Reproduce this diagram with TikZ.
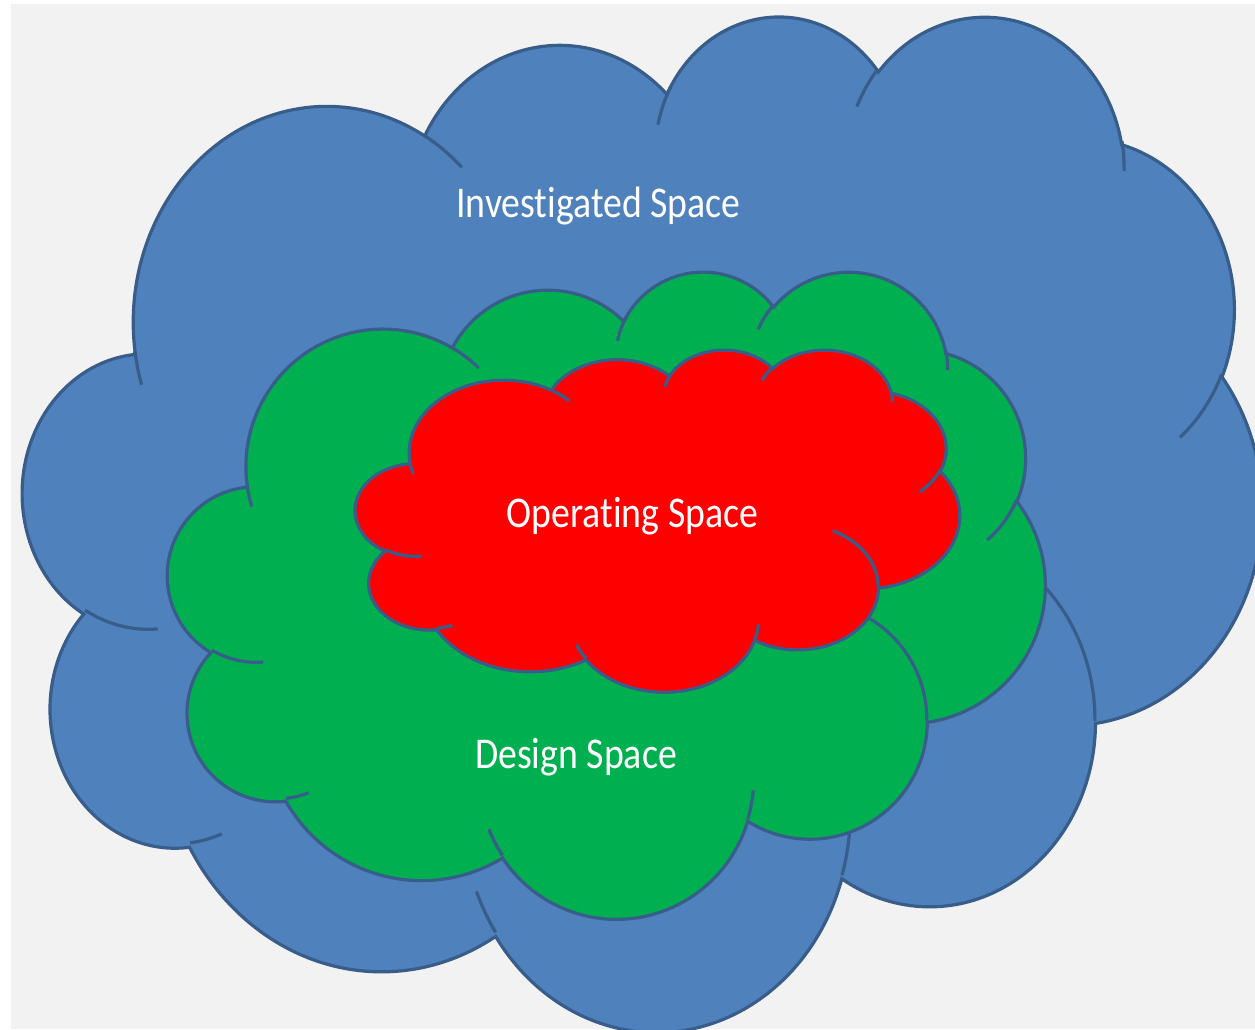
\documentclass[tikz,border=0pt]{standalone}
\usepackage{fontspec}
\usepackage{xcolor}
\newfontfamily\labelfont[FakeStretch=0.86, Ligatures=NoCommon]{Carlito}

% cloud outline in a 43.2 x 43.2 box, y pointing down
\newcommand{\cloudoutline}{(3.900,14.370)
  arc[start angle=-187.74, end angle=-59.64, x radius=6.753, y radius=9.190]
  arc[start angle=-152.02, end angle=-45.46, x radius=5.333, y radius=7.267]
  arc[start angle=-153.50, end angle=-37.33, x radius=4.365, y radius=5.945]
  arc[start angle=-139.71, end angle=-10.21, x radius=4.857, y radius=6.595]
  arc[start angle=-74.77, end angle=23.21, x radius=5.333, y radius=7.273]
  arc[start angle=-37.52, end angle=81.86, x radius=6.775, y radius=9.220]
  arc[start angle=0.46, end angle=121.98, x radius=5.785, y radius=7.867]
  arc[start angle=16.84, end angle=146.23, x radius=6.752, y radius=9.215]
  arc[start angle=58.98, end angle=150.19, x radius=7.720, y radius=10.543]
  arc[start angle=-276.69, end angle=-136.89, x radius=4.360, y radius=5.918]
  arc[start angle=-239.65, end angle=-95.89, x radius=4.345, y radius=5.945]
  -- cycle}
% the short arcs inside the cloud
\newcommand{\cloudinner}{
  (4.693,26.177) arc[start angle=85.55, end angle=120.35, x radius=4.345, y radius=5.945]
  (6.928,34.899) arc[start angle=68.24, end angle=83.31, x radius=4.360, y radius=5.918]
  (16.478,39.090) arc[start angle=146.23, end angle=158.47, x radius=6.752, y radius=9.215]
  (28.827,34.751) arc[start angle=4.74, end angle=16.84, x radius=6.752, y radius=9.215]
  (34.129,22.954) arc[start angle=-64.03, end angle=0.46, x radius=5.785, y radius=7.867]
  (41.798,15.354) arc[start angle=23.21, end angle=49.65, x radius=5.333, y radius=7.273]
  (38.324,5.426) arc[start angle=-10.21, end angle=0.82, x radius=4.857, y radius=6.595]
  (29.078,3.952) arc[start angle=-156.29, end angle=-139.71, x radius=4.857, y radius=6.595]
  (22.141,4.720) arc[start angle=-167.72, end angle=-151.12, x radius=4.365, y radius=5.945]
  (14.000,5.192) arc[start angle=-59.64, end angle=-45.74, x radius=6.753, y radius=9.190]
  (4.127,15.789) arc[start angle=163.19, end angle=172.26, x radius=6.753, y radius=9.190]}

\begin{document}
\begin{tikzpicture}[x=0.1mm, y=-0.1mm,
  cloudline/.style={draw=cloudedge, line width=0.32mm},
  spacelabel/.style={text=white, anchor=base, inner sep=0pt,
    font=\labelfont\fontsize{12.5}{15}\selectfont}]
\definecolor{bggray}{HTML}{F2F2F2}
\definecolor{cloudedge}{HTML}{385D8A}
\definecolor{investblue}{HTML}{4F81BD}
\definecolor{designgreen}{HTML}{00B050}
\definecolor{operred}{HTML}{FF0000}
\useasboundingbox[fill=white] (0,0) rectangle (1255,1029);
\clip (0,0) rectangle (1255,1029);
\fill[bggray] (11,4) rectangle (1255,1029);
  \foreach \crlr/\lft/\tp/\wd/\ht in {investblue/23.2/13.7/1238.5/1015.2,
      designgreen/168/270/877/647, operred/355.5/349/604/342}
  { \begin{scope}[shift={(\lft,\tp)}, xscale=\wd/43.2, yscale=\ht/43.2]
      \filldraw[cloudline, fill=\crlr] \cloudoutline;
      \draw[cloudline] \cloudinner;
    \end{scope}}
\node[spacelabel] (invest) at (598.5,217) {Investigated Space};
\node[spacelabel] (oper) at (632.5,527) {Operating Space};
\node[spacelabel] (design) at (576,768) {Design Space};
\end{tikzpicture}
\end{document}
